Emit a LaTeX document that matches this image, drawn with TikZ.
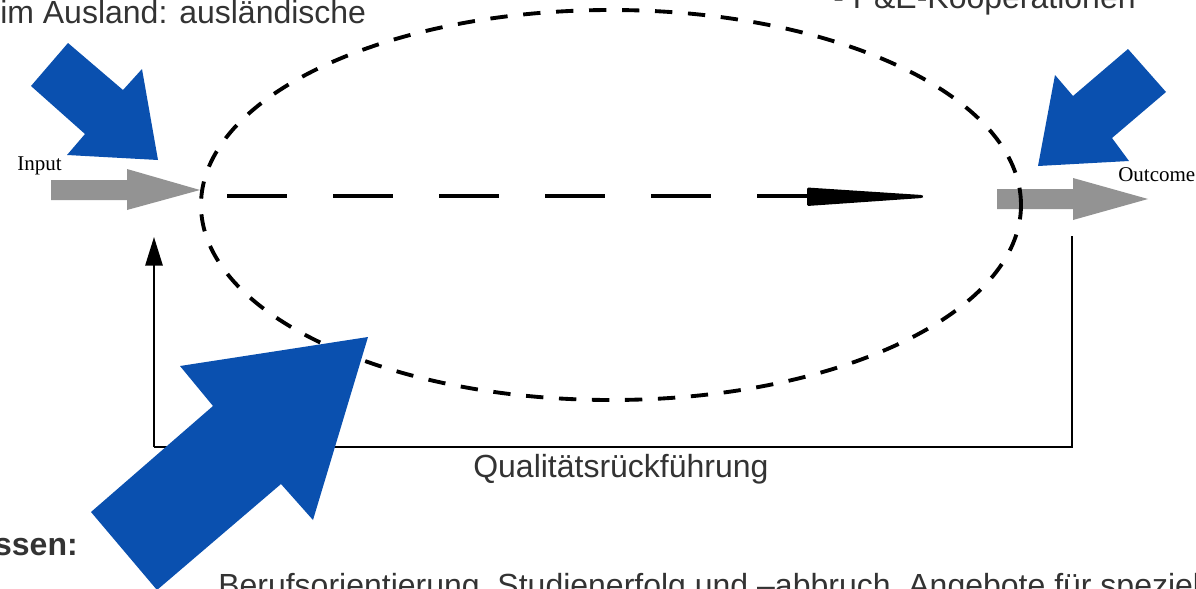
\documentclass[tikz,border=0pt]{standalone}
\usepackage{fontspec}
\setmainfont{Liberation Sans}
\newfontfamily\tnr{Liberation Serif}
\usetikzlibrary{arrows.meta}
\definecolor{bluearr}{RGB}{10,80,175}
\definecolor{grayarr}{RGB}{147,147,147}
\definecolor{txt}{RGB}{51,51,51}
\tikzset{
  bigtext/.style={inner sep=0pt, text=txt, font=\fontsize{24}{28}\selectfont},
  smalltext/.style={inner sep=0pt, text=black, font=\tnr\fontsize{15.75}{18}\selectfont},
  blue arrow/.style={fill=bluearr, draw=none},
  gray arrow/.style={fill=grayarr, draw=none},
  loopline/.style={line width=1.5pt, black},
  ellipsedash/.style={line width=2.9pt, dash pattern=on 13pt off 11.75pt},
  flowdash/.style={line width=3pt, dash pattern=on 45pt off 34.5pt}
}
\begin{document}
\begin{tikzpicture}[x=0.75pt, y=-0.75pt]
\useasboundingbox (0,0) rectangle (1196,589);
\clip (0,0) rectangle (1196,589);

% coordinates
\coordinate (inA) at (51,190);
\coordinate (inTip) at (200,190);
\coordinate (outA) at (997,199);
\coordinate (outTip) at (1148,199);
\coordinate (flowS) at (227,196);
\coordinate (flowE) at (807,196);
\coordinate (flowTip) at (924,196.5);
\coordinate (loopR) at (1072,236);
\coordinate (loopBR) at (1072,447);
\coordinate (loopBL) at (154,447);
\coordinate (loopT) at (154,237);
\coordinate (ellC) at (611,205);

% gray arrows
\fill[gray arrow] (51,180) -- (127,180) -- (127,169) -- (inTip) -- (127,210) -- (127,200) -- (51,200) -- cycle;
\fill[gray arrow] (997,189) -- (1073,189) -- (1073,178) -- (outTip) -- (1073,220) -- (1073,209) -- (997,209) -- cycle;

% dashed ellipse
\draw[ellipsedash] (ellC) ellipse [x radius=307.5pt, y radius=146.25pt];

% central dashed flow with arrowhead
\draw[flowdash] (flowS) -- (flowE);
\fill[rounded corners=1pt] (807,187.5) -- (922,195) -- (flowTip) -- (922,198) -- (807,206) -- cycle;

% feedback loop
\draw[loopline] (loopR) -- (loopBR) -- (loopBL);
\draw[loopline, -{Triangle[length=21.5pt, width=13pt]}] (loopBL) -- (loopT);

% blue arrows
\fill[blue arrow] (68,43) -- (123,90) -- (142,69) -- (158,160) -- (67,155) -- (85,134) -- (31,86) -- cycle;
\fill[blue arrow] (1128,49) -- (1166,92) -- (1112,138) -- (1129,161) -- (1038,166) -- (1055,75) -- (1073,96) -- cycle;
\fill[blue arrow] (180,366) -- (368,337) -- (313,520) -- (281,484) -- (157,590) -- (91,512) -- (213,406) -- cycle;

% texts
\node[bigtext, anchor=base west] (tl) at (0,23) {im Ausland: ausländische};
\node[bigtext, anchor=base west] (tr) at (833,8) {- P\&E-Kooperationen};
\node[bigtext, anchor=base west] (ql) at (473,477) {Qualitätsrückführung};
\node[bigtext, anchor=base east, font=\bfseries\fontsize{24}{28}\selectfont] (ss) at (78,555) {ssen:};
\node[bigtext, anchor=base west] (bt) at (218,596) {Berufsorientierung, Studienerfolg und –abbruch, Angebote für spezielle};
\node[smalltext, anchor=base west] (inp) at (17,170) {Input};
\node[smalltext, anchor=base west] (outc) at (1118,181) {Outcome};
\end{tikzpicture}
\end{document}
